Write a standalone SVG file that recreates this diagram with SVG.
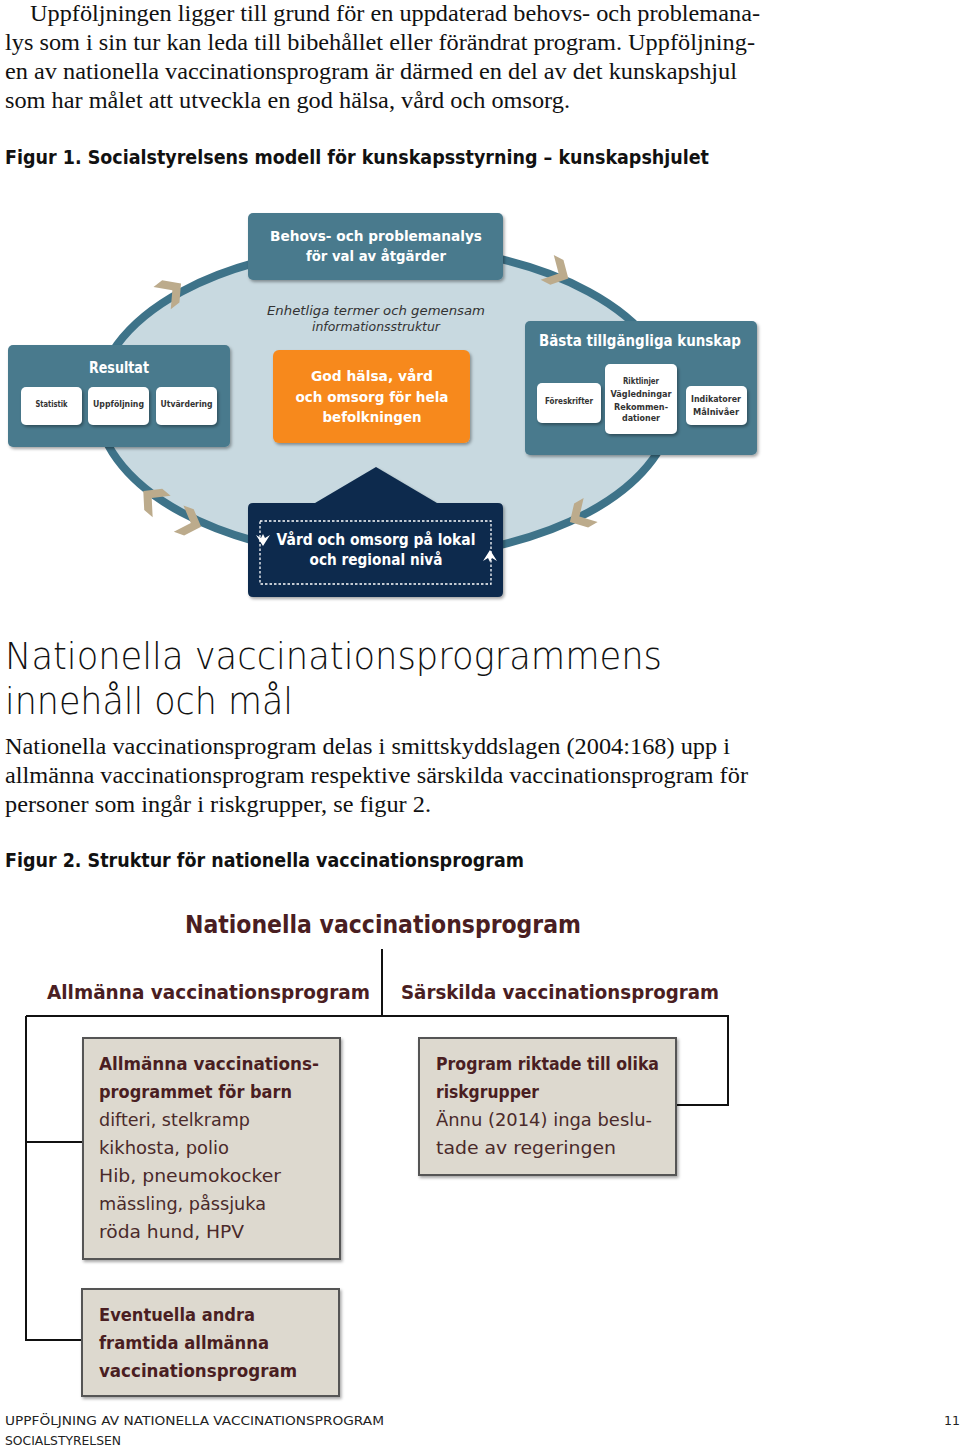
<svg xmlns="http://www.w3.org/2000/svg" width="960" height="1448" viewBox="0 0 960 1448">
<style>
.body{font-family:"Liberation Serif",serif;font-size:23px;fill:#111}
.fig{font-family:"DejaVu Sans","Liberation Sans",sans-serif;font-size:20px;font-weight:bold;fill:#111}
.wt{font-family:"DejaVu Sans","Liberation Sans",sans-serif;font-weight:bold;fill:#fff;text-anchor:middle}
.sm{font-family:"DejaVu Sans","Liberation Sans",sans-serif;font-weight:bold;fill:#333;text-anchor:middle;font-size:8.5px}
.it{font-family:"DejaVu Sans","Liberation Sans",sans-serif;font-style:italic;fill:#333;text-anchor:middle;font-size:12px}
.h1{font-family:"DejaVu Sans","Liberation Sans",sans-serif;font-size:38px;fill:#111;font-weight:300}
.mr{font-family:"DejaVu Sans","Liberation Sans",sans-serif;font-weight:bold;fill:#4a1e22}
.rg{font-family:"DejaVu Sans","Liberation Sans",sans-serif;fill:#4a2a2a;font-size:18px}
.ft{font-family:"DejaVu Sans","Liberation Sans",sans-serif;fill:#222;font-size:12.5px}
.teal{fill:#4a7a8d}
.wbox{fill:#fff}
.gbox{fill:#ddd9cf;stroke:#555;stroke-width:2}
.ln{stroke:#111;stroke-width:2;fill:none}
</style>
<defs>
<filter id="sh" x="-10%" y="-10%" width="130%" height="130%">
<feDropShadow dx="1.5" dy="2" stdDeviation="1.5" flood-color="#000" flood-opacity="0.35"/>
</filter>
<path id="chev" d="M-10,-14 L3,0 L-10,14 L1,14 L14,0 L1,-14 Z" fill="#bcab8c"/>
</defs>

<!-- top paragraph -->
<g id="para1">
<text class="body" x="30" y="21" textLength="730" lengthAdjust="spacingAndGlyphs">Uppföljningen ligger till grund för en uppdaterad behovs- och problemana-</text>
<text class="body" x="5" y="50" textLength="750" lengthAdjust="spacingAndGlyphs">lys som i sin tur kan leda till bibehållet eller förändrat program. Uppföljning-</text>
<text class="body" x="5" y="79" textLength="732" lengthAdjust="spacingAndGlyphs">en av nationella vaccinationsprogram är därmed en del av det kunskapshjul</text>
<text class="body" x="5" y="108" textLength="565" lengthAdjust="spacingAndGlyphs">som har målet att utveckla en god hälsa, vård och omsorg.</text>
</g>
<text id="fig1title" class="fig" x="5" y="164" textLength="704" lengthAdjust="spacingAndGlyphs">Figur 1. Socialstyrelsens modell för kunskapsstyrning – kunskapshjulet</text>

<!-- wheel -->
<g id="wheel">
<ellipse cx="385" cy="402" rx="288" ry="156" fill="#c8d9e0" stroke="#3e7389" stroke-width="8"/>
<use href="#chev" transform="translate(170,292) rotate(-38)"/>
<use href="#chev" transform="translate(556,272) rotate(28)"/>
<use href="#chev" transform="translate(582,515) rotate(150)"/>
<use href="#chev" transform="translate(154,500) rotate(-140)"/>
<use href="#chev" transform="translate(188,522) rotate(20)"/>
</g>

<g id="topbox">
<rect x="248" y="213" width="255" height="67" rx="5" class="teal" filter="url(#sh)"/>
<text class="wt" x="376" y="241" font-size="14.5" textLength="212" lengthAdjust="spacingAndGlyphs">Behovs- och problemanalys</text>
<text class="wt" x="376" y="261" font-size="14.5" textLength="140" lengthAdjust="spacingAndGlyphs">för val av åtgärder</text>
</g>

<g id="infotext">
<text class="it" x="376" y="315" textLength="218" lengthAdjust="spacingAndGlyphs">Enhetliga termer och gemensam</text>
<text class="it" x="376" y="331" textLength="128" lengthAdjust="spacingAndGlyphs">informationsstruktur</text>
</g>

<g id="center">
<rect x="273" y="350" width="197" height="93" rx="6" fill="#f7891e" filter="url(#sh)"/>
<text class="wt" x="372" y="381" font-size="14.5" textLength="122" lengthAdjust="spacingAndGlyphs">God hälsa, vård</text>
<text class="wt" x="372" y="402" font-size="14.5" textLength="153" lengthAdjust="spacingAndGlyphs">och omsorg för hela</text>
<text class="wt" x="372" y="422" font-size="14.5" textLength="99" lengthAdjust="spacingAndGlyphs">befolkningen</text>
</g>

<g id="resultat">
<rect x="8" y="345" width="222" height="102" rx="5" class="teal" filter="url(#sh)"/>
<text class="wt" x="119" y="373" font-size="15" textLength="60" lengthAdjust="spacingAndGlyphs">Resultat</text>
<rect x="21" y="387" width="61" height="38" rx="5" class="wbox" filter="url(#sh)"/>
<rect x="88" y="387" width="61" height="38" rx="5" class="wbox" filter="url(#sh)"/>
<rect x="156" y="387" width="61" height="38" rx="5" class="wbox" filter="url(#sh)"/>
<text class="sm" x="51.5" y="407" textLength="32" lengthAdjust="spacingAndGlyphs">Statistik</text>
<text class="sm" x="118.5" y="407" textLength="51" lengthAdjust="spacingAndGlyphs">Uppföljning</text>
<text class="sm" x="186.5" y="407" textLength="52" lengthAdjust="spacingAndGlyphs">Utvärdering</text>
</g>

<g id="basta">
<rect x="525" y="321" width="232" height="134" rx="5" class="teal" filter="url(#sh)"/>
<text class="wt" x="640" y="346" font-size="15" textLength="202" lengthAdjust="spacingAndGlyphs">Bästa tillgängliga kunskap</text>
<rect x="537" y="383" width="64" height="40" rx="5" class="wbox" filter="url(#sh)"/>
<rect x="605" y="364" width="72" height="70" rx="5" class="wbox" filter="url(#sh)"/>
<rect x="686" y="386" width="61" height="39" rx="5" class="wbox" filter="url(#sh)"/>
<text class="sm" x="569" y="404" textLength="48" lengthAdjust="spacingAndGlyphs">Föreskrifter</text>
<text class="sm" x="641" y="384" textLength="36" lengthAdjust="spacingAndGlyphs">Riktlinjer</text>
<text class="sm" x="641" y="397" textLength="61" lengthAdjust="spacingAndGlyphs">Vägledningar</text>
<text class="sm" x="641" y="410" textLength="54" lengthAdjust="spacingAndGlyphs">Rekommen-</text>
<text class="sm" x="641" y="421" textLength="38" lengthAdjust="spacingAndGlyphs">dationer</text>
<text class="sm" x="716" y="402" textLength="50" lengthAdjust="spacingAndGlyphs">Indikatorer</text>
<text class="sm" x="716" y="415" textLength="46" lengthAdjust="spacingAndGlyphs">Målnivåer</text>
</g>

<g id="lokal">
<path d="M248,508 Q248,503 253,503 L315,503 L376,467 L437,503 L498,503 Q503,503 503,508 L503,592 Q503,597 498,597 L253,597 Q248,597 248,592 Z" fill="#0e2c4e" filter="url(#sh)"/>
<rect x="260" y="521" width="231" height="63" fill="none" stroke="#fff" stroke-width="1.3" stroke-dasharray="2.5,2"/>
<text class="wt" x="376" y="545" font-size="15" textLength="199" lengthAdjust="spacingAndGlyphs">Vård och omsorg på lokal</text>
<text class="wt" x="376" y="565" font-size="15" textLength="133" lengthAdjust="spacingAndGlyphs">och regional nivå</text>
<path d="M256,535 L261,538 L263,534 L265,538 L270,535 L263,546 Z" fill="#fff"/>
<path d="M483,561 L488,558 L490,562 L492,558 L497,561 L490,550 Z" fill="#fff"/>
</g>

<!-- section 2 -->
<g id="section2">
<text class="h1" x="5" y="669" textLength="657" lengthAdjust="spacingAndGlyphs">Nationella vaccinationsprogrammens</text>
<text class="h1" x="5" y="714" textLength="288" lengthAdjust="spacingAndGlyphs">innehåll och mål</text>
<text class="body" x="5" y="754" textLength="725" lengthAdjust="spacingAndGlyphs">Nationella vaccinationsprogram delas i smittskyddslagen (2004:168) upp i</text>
<text class="body" x="5" y="783" textLength="743" lengthAdjust="spacingAndGlyphs">allmänna vaccinationsprogram respektive särskilda vaccinationsprogram för</text>
<text class="body" x="5" y="812" textLength="426" lengthAdjust="spacingAndGlyphs">personer som ingår i riskgrupper, se figur 2.</text>
<text class="fig" x="5" y="867" textLength="519" lengthAdjust="spacingAndGlyphs">Figur 2. Struktur för nationella vaccinationsprogram</text>
</g>

<!-- figure 2 -->
<g id="connectors">
<path class="ln" d="M382,949 L382,1016"/>
<path class="ln" d="M26,1016 L728,1016 L728,1105 L676,1105"/>
<path class="ln" d="M26,1016 L26,1340 L82,1340"/>
<path class="ln" d="M26,1142 L83,1142"/>
</g>

<g id="np-title">
<text class="mr" x="383" y="933" font-size="24" text-anchor="middle" textLength="396" lengthAdjust="spacingAndGlyphs">Nationella vaccinationsprogram</text>
</g>
<g id="allm-label">
<text class="mr" x="47" y="999" font-size="20" textLength="323" lengthAdjust="spacingAndGlyphs">Allmänna vaccinationsprogram</text>
</g>
<g id="sarsk-label">
<text class="mr" x="401" y="999" font-size="20" textLength="318" lengthAdjust="spacingAndGlyphs">Särskilda vaccinationsprogram</text>
</g>

<g id="box-barn">
<rect x="83" y="1038" width="257" height="221" class="gbox" filter="url(#sh)"/>
<text class="mr" x="99" y="1070" font-size="18" textLength="220" lengthAdjust="spacingAndGlyphs">Allmänna vaccinations-</text>
<text class="mr" x="99" y="1098" font-size="18" textLength="193" lengthAdjust="spacingAndGlyphs">programmet för barn</text>
<text class="rg" x="99" y="1126" textLength="151" lengthAdjust="spacingAndGlyphs">difteri, stelkramp</text>
<text class="rg" x="99" y="1154" textLength="130" lengthAdjust="spacingAndGlyphs">kikhosta, polio</text>
<text class="rg" x="99" y="1182" textLength="182" lengthAdjust="spacingAndGlyphs">Hib, pneumokocker</text>
<text class="rg" x="99" y="1210" textLength="167" lengthAdjust="spacingAndGlyphs">mässling, påssjuka</text>
<text class="rg" x="99" y="1238" textLength="145" lengthAdjust="spacingAndGlyphs">röda hund, HPV</text>
</g>

<g id="box-risk">
<rect x="419" y="1038" width="257" height="137" class="gbox" filter="url(#sh)"/>
<text class="mr" x="436" y="1070" font-size="18" textLength="223" lengthAdjust="spacingAndGlyphs">Program riktade till olika</text>
<text class="mr" x="436" y="1098" font-size="18" textLength="103" lengthAdjust="spacingAndGlyphs">riskgrupper</text>
<text class="rg" x="436" y="1126" textLength="216" lengthAdjust="spacingAndGlyphs">Ännu (2014) inga beslu-</text>
<text class="rg" x="436" y="1154" textLength="180" lengthAdjust="spacingAndGlyphs">tade av regeringen</text>
</g>

<g id="box-framtida">
<rect x="82" y="1289" width="257" height="107" class="gbox" filter="url(#sh)"/>
<text class="mr" x="99" y="1321" font-size="18" textLength="156" lengthAdjust="spacingAndGlyphs">Eventuella andra</text>
<text class="mr" x="99" y="1349" font-size="18" textLength="170" lengthAdjust="spacingAndGlyphs">framtida allmänna</text>
<text class="mr" x="99" y="1377" font-size="18" textLength="198" lengthAdjust="spacingAndGlyphs">vaccinationsprogram</text>
</g>

<g id="footer">
<text class="ft" x="5" y="1425" textLength="379" lengthAdjust="spacingAndGlyphs">UPPFÖLJNING AV NATIONELLA VACCINATIONSPROGRAM</text>
<text class="ft" x="5" y="1445" textLength="116" lengthAdjust="spacingAndGlyphs">SOCIALSTYRELSEN</text>
<text class="ft" x="944" y="1425" font-size="15">11</text>
</g>
</svg>
